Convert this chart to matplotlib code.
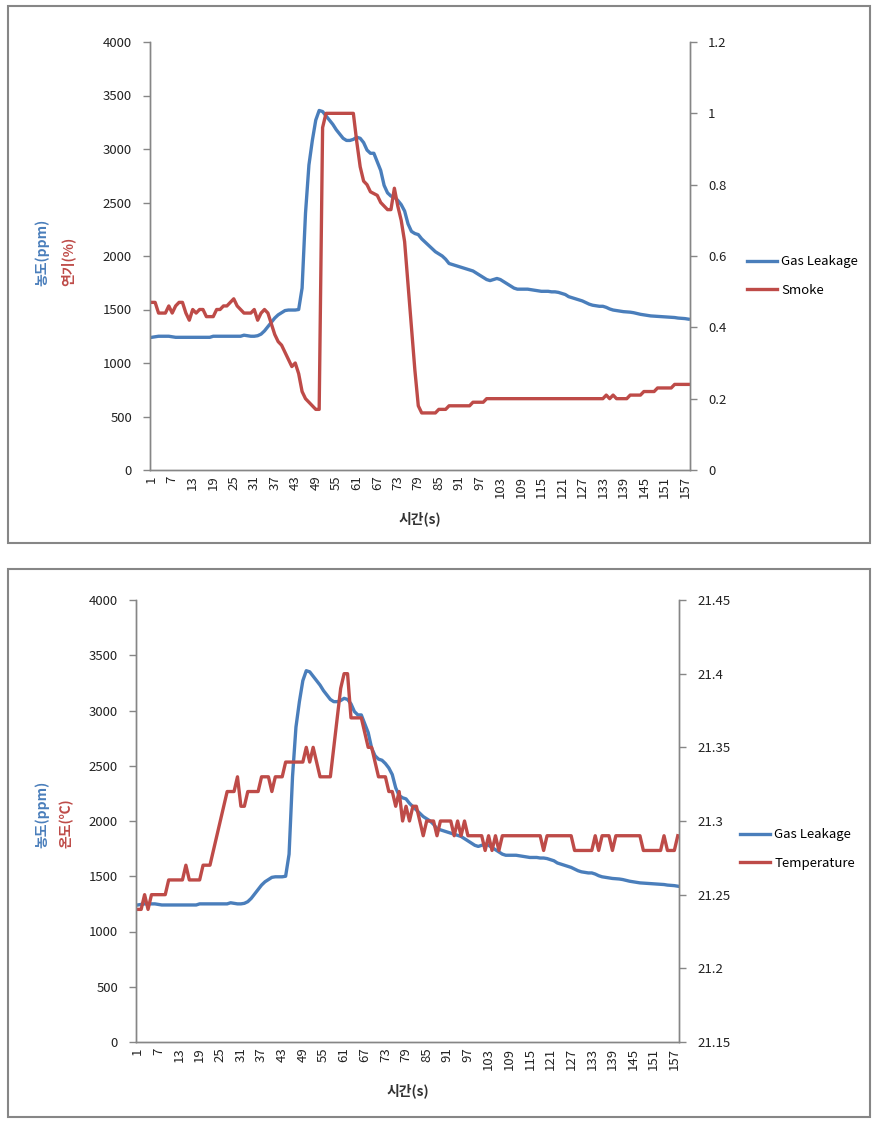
import matplotlib
matplotlib.use("Agg")
import matplotlib.pyplot as plt
from matplotlib.patches import Rectangle
from matplotlib.ticker import FuncFormatter

plt.rcParams['font.family'] = ['Noto Sans CJK KR', 'DejaVu Sans']

# time index (s)
time_s = list(range(1, 159))
tick_labels = [str(t) for t in range(1, 159, 6)]

gas_leakage = [
    1240, 1245, 1250, 1250, 1250, 1250, 1245, 1240, 1240, 1240,
    1240, 1240, 1240, 1240, 1240, 1240, 1240, 1240, 1250, 1250,
    1250, 1250, 1250, 1250, 1250, 1250, 1250, 1260, 1255, 1250,
    1250, 1255, 1270, 1300, 1340, 1380, 1420, 1450, 1470, 1490,
    1495, 1495, 1495, 1500, 1700, 2400, 2850, 3080, 3270, 3360,
    3350, 3310, 3270, 3230, 3180, 3140, 3100, 3080, 3080, 3090,
    3110, 3100, 3060, 2990, 2960, 2960, 2880, 2800, 2660, 2590,
    2560, 2550, 2520, 2480, 2420, 2300, 2230, 2210, 2200, 2160,
    2130, 2100, 2070, 2040, 2020, 2000, 1970, 1930, 1920, 1910,
    1900, 1890, 1880, 1870, 1860, 1840, 1820, 1800, 1780, 1770,
    1780, 1790, 1780, 1760, 1740, 1720, 1700, 1690, 1690, 1690,
    1690, 1685, 1680, 1675, 1670, 1670, 1670, 1665, 1665, 1660,
    1650, 1640, 1620, 1610, 1600, 1590, 1580, 1565, 1550, 1540,
    1535, 1530, 1530, 1520, 1505, 1495, 1490, 1485, 1480, 1478,
    1475, 1470, 1462, 1455, 1450, 1445, 1440, 1438, 1436, 1435,
    1432, 1430, 1428, 1425, 1420, 1418, 1415, 1410,
]

smoke = [
    0.47, 0.47, 0.44, 0.44, 0.44, 0.46, 0.44, 0.46, 0.47, 0.47,
    0.44, 0.42, 0.45, 0.44, 0.45, 0.45, 0.43, 0.43, 0.43, 0.45,
    0.45, 0.46, 0.46, 0.47, 0.48, 0.46, 0.45, 0.44, 0.44, 0.44,
    0.45, 0.42, 0.44, 0.45, 0.44, 0.41, 0.38, 0.36, 0.35, 0.33,
    0.31, 0.29, 0.30, 0.27, 0.22, 0.20, 0.19, 0.18, 0.17, 0.17,
    0.96, 1.00, 1.00, 1.00, 1.00, 1.00, 1.00, 1.00, 1.00, 1.00,
    0.92, 0.85, 0.81, 0.80, 0.78, 0.775, 0.77, 0.75, 0.74, 0.73,
    0.73, 0.79, 0.74, 0.70, 0.64, 0.52, 0.40, 0.28, 0.18, 0.16,
    0.16, 0.16, 0.16, 0.16, 0.17, 0.17, 0.17, 0.18, 0.18, 0.18,
    0.18, 0.18, 0.18, 0.18, 0.19, 0.19, 0.19, 0.19, 0.20, 0.20,
    0.20, 0.20, 0.20, 0.20, 0.20, 0.20, 0.20, 0.20, 0.20, 0.20,
    0.20, 0.20, 0.20, 0.20, 0.20, 0.20, 0.20, 0.20, 0.20, 0.20,
    0.20, 0.20, 0.20, 0.20, 0.20, 0.20, 0.20, 0.20, 0.20, 0.20,
    0.20, 0.20, 0.20, 0.21, 0.20, 0.21, 0.20, 0.20, 0.20, 0.20,
    0.21, 0.21, 0.21, 0.21, 0.22, 0.22, 0.22, 0.22, 0.23, 0.23,
    0.23, 0.23, 0.23, 0.24, 0.24, 0.24, 0.24, 0.24,
]

temperature = [
    21.24, 21.24, 21.25, 21.24, 21.25, 21.25, 21.25, 21.25, 21.25, 21.26,
    21.26, 21.26, 21.26, 21.26, 21.27, 21.26, 21.26, 21.26, 21.26, 21.27,
    21.27, 21.27, 21.28, 21.29, 21.30, 21.31, 21.32, 21.32, 21.32, 21.33,
    21.31, 21.31, 21.32, 21.32, 21.32, 21.32, 21.33, 21.33, 21.33, 21.32,
    21.33, 21.33, 21.33, 21.34, 21.34, 21.34, 21.34, 21.34, 21.34, 21.35,
    21.34, 21.35, 21.34, 21.33, 21.33, 21.33, 21.33, 21.35, 21.37, 21.39,
    21.40, 21.40, 21.37, 21.37, 21.37, 21.37, 21.36, 21.35, 21.35, 21.34,
    21.33, 21.33, 21.33, 21.32, 21.32, 21.31, 21.32, 21.30, 21.31, 21.30,
    21.31, 21.31, 21.30, 21.29, 21.30, 21.30, 21.30, 21.29, 21.30, 21.30,
    21.30, 21.30, 21.29, 21.30, 21.29, 21.30, 21.29, 21.29, 21.29, 21.29,
    21.29, 21.28, 21.29, 21.28, 21.29, 21.28, 21.29, 21.29, 21.29, 21.29,
    21.29, 21.29, 21.29, 21.29, 21.29, 21.29, 21.29, 21.29, 21.28, 21.29,
    21.29, 21.29, 21.29, 21.29, 21.29, 21.29, 21.29, 21.28, 21.28, 21.28,
    21.28, 21.28, 21.28, 21.29, 21.28, 21.29, 21.29, 21.29, 21.28, 21.29,
    21.29, 21.29, 21.29, 21.29, 21.29, 21.29, 21.29, 21.28, 21.28, 21.28,
    21.28, 21.28, 21.28, 21.29, 21.28, 21.28, 21.28, 21.29,
]

BLUE = "#4A7EBB"
RED = "#BE4B48"
GRAY = "#868686"
W, H = 878, 1126


def fx(px):
    return px / W


def fy(py):
    return 1 - py / H


def style_axes(ax, ax2):
    ax.set_xlim(0.5, 158.5)
    ax.set_ylim(0, 4000)
    ax.set_yticks(range(0, 4001, 500))
    ax.set_xticks(range(1, 159, 6))
    ax.set_xticklabels(tick_labels, rotation=90)
    for a in (ax, ax2):
        a.spines["top"].set_visible(False)
        for s in ("left", "right", "bottom"):
            a.spines[s].set_color(GRAY)
            a.spines[s].set_linewidth(1.0)
        a.tick_params(colors=GRAY, labelcolor="#222222", labelsize=9.5,
                      length=5, width=1.0, direction="out")
    ax.tick_params(axis="x", length=0, pad=4)
    ax.tick_params(axis="y", pad=8)
    ax2.tick_params(axis="y", pad=8)
    ax2.yaxis.set_major_formatter(FuncFormatter(lambda v, p: "%g" % round(v, 2)))


fig = plt.figure(figsize=(W / 100, H / 100), dpi=100)

# panel borders
for top, bottom in ((6, 543), (569, 1117)):
    fig.patches.append(Rectangle((fx(8), fy(bottom)), fx(870 - 8), (bottom - top) / H,
                                 transform=fig.transFigure, fill=False,
                                 edgecolor=GRAY, linewidth=1.5))

# ---- top: gas leakage + smoke
ax1 = fig.add_axes([fx(150), fy(470), fx(540), 428 / H])
ax1b = ax1.twinx()
l1, = ax1.plot(time_s, gas_leakage, color=BLUE, lw=2.4, label="Gas Leakage")
l2, = ax1b.plot(time_s, smoke, color=RED, lw=2.4, label="Smoke")
ax1b.set_ylim(0, 1.2)
ax1b.set_yticks([0, 0.2, 0.4, 0.6, 0.8, 1.0, 1.2])
style_axes(ax1, ax1b)
ax1.set_xlabel("시간(s)", fontsize=10, fontweight="bold", color="#333333", labelpad=10)
fig.legend([l1, l2], ["Gas Leakage", "Smoke"], loc="center left",
           bbox_to_anchor=(fx(735), fy(276)), frameon=False, fontsize=9.5,
           handlelength=2.3, handletextpad=0.3, labelspacing=1.15)
fig.text(fx(42), fy(286), "농도(ppm)", rotation=90, color=BLUE, fontsize=10,
         fontweight="bold", ha="center", va="bottom")
fig.text(fx(68), fy(286), "연기(%)", rotation=90, color=RED, fontsize=10,
         fontweight="bold", ha="center", va="bottom")

# ---- bottom: gas leakage + temperature
ax2 = fig.add_axes([fx(136), fy(1042), fx(543.5), 442 / H])
ax2b = ax2.twinx()
l3, = ax2.plot(time_s, gas_leakage, color=BLUE, lw=2.4, label="Gas Leakage")
l4, = ax2b.plot(time_s, temperature, color=RED, lw=2.4, label="Temperature")
ax2b.set_ylim(21.15, 21.45)
ax2b.set_yticks([21.15, 21.2, 21.25, 21.3, 21.35, 21.4, 21.45])
style_axes(ax2, ax2b)
ax2.set_xlabel("시간(s)", fontsize=10, fontweight="bold", color="#333333", labelpad=10)
fig.legend([l3, l4], ["Gas Leakage", "Temperature"], loc="center left",
           bbox_to_anchor=(fx(728), fy(849)), frameon=False, fontsize=9.5,
           handlelength=2.3, handletextpad=0.3, labelspacing=1.15)
fig.text(fx(42), fy(848), "농도(ppm)", rotation=90, color=BLUE, fontsize=10,
         fontweight="bold", ha="center", va="bottom")
fig.text(fx(66), fy(848), "온도(℃)", rotation=90, color=RED, fontsize=10,
         fontweight="bold", ha="center", va="bottom")

fig.savefig("out.png", dpi=100)
